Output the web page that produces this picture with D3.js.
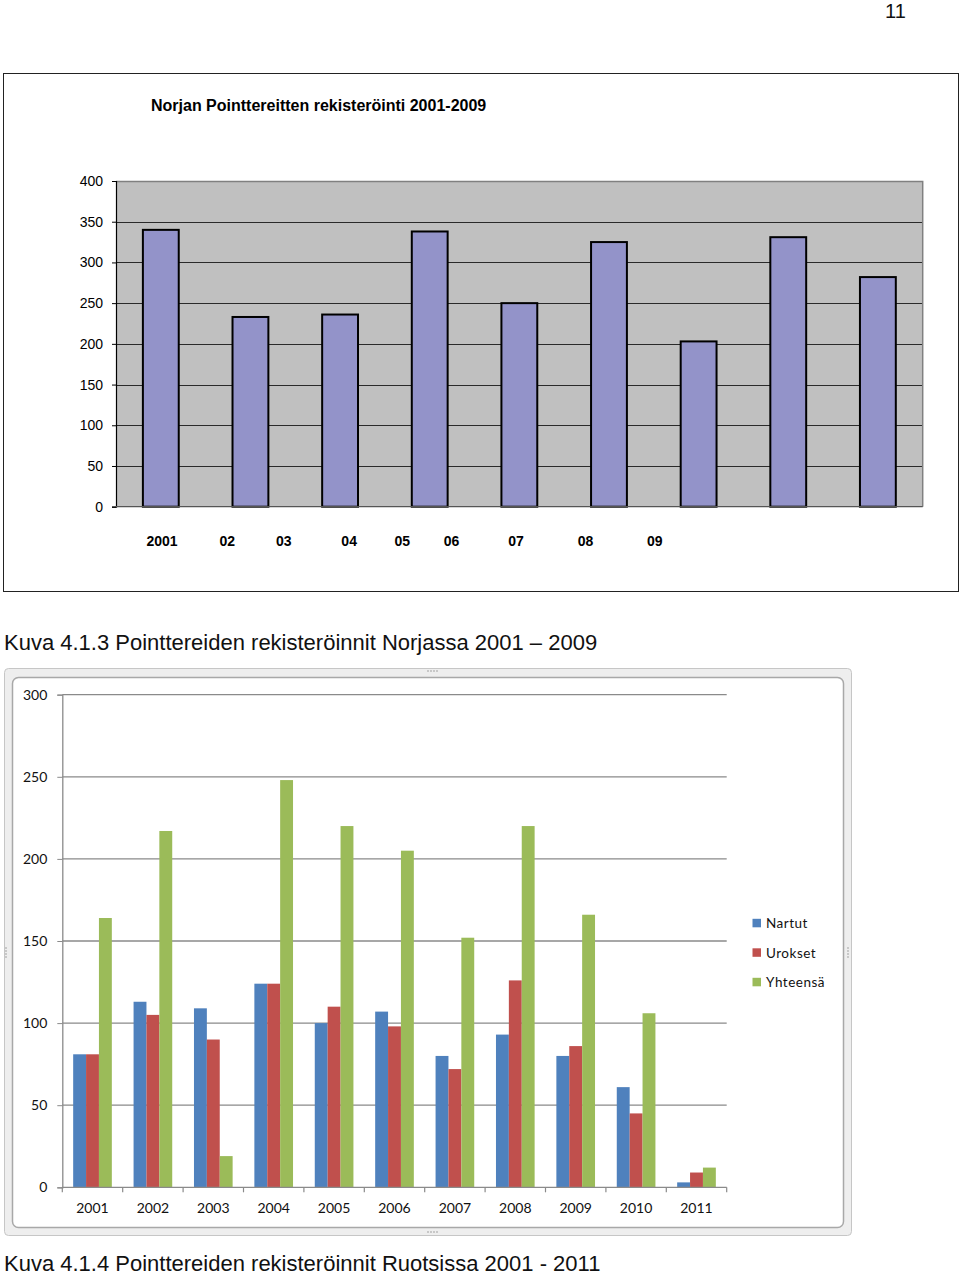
<!DOCTYPE html>
<html><head><meta charset="utf-8">
<script src="https://cdn.jsdelivr.net/npm/d3@7"></script>
<style>html,body{margin:0;padding:0;background:#fff;}svg{display:block;}</style>
</head><body>
<script>
// ---------- Chart 1 data (Norway) ----------
const norYears = ["2001","2002","2003","2004","2005","2006","2007","2008","2009"];
const norValues = [340, 233, 236, 338, 250, 325, 203, 331, 282];
const norYTicks = [0, 50, 100, 150, 200, 250, 300, 350, 400];
const norXLabels = ["2001","02","03","04","05","06","07","08","09"];
// label positions as drawn in the original (hand-placed text row), as fractions of plot width
const norXLabelPos = [0.057, 0.138, 0.208, 0.289, 0.355, 0.416, 0.496, 0.582, 0.668];

// ---------- Chart 2 data (Sweden) ----------
const sweYears = ["2001","2002","2003","2004","2005","2006","2007","2008","2009","2010","2011"];
const seriesNames = ["Nartut","Urokset","Yhteensä"];
const nartut   = [81, 113, 109, 124, 100, 107, 80, 93, 80, 61, 3];
const urokset  = [81, 105, 90, 124, 110, 98, 72, 126, 86, 45, 9];
const yhteensa = [164, 217, 19, 248, 220, 205, 152, 220, 166, 106, 12];
const sweYTicks = [0, 50, 100, 150, 200, 250, 300];
const seriesColors = ["#4F81BD", "#C0504D", "#9BBB59"];

const W = 960, H = 1276;
const svg = d3.select("body").append("svg").attr("width", W).attr("height", H);

// page number
svg.append("text").attr("x", 885).attr("y", 18).attr("font-family", "Liberation Sans, Arial")
  .attr("font-size", 20).attr("fill", "#111").text("11");

// ================= Chart 1 =================
svg.append("rect").attr("x", 3.5).attr("y", 73.5).attr("width", 955).attr("height", 518)
  .attr("fill", "#fff").attr("stroke", "#222").attr("stroke-width", 1);

svg.append("text").attr("x", 151).attr("y", 111)
  .attr("font-family", "Liberation Sans, Arial").attr("font-weight", "bold").attr("font-size", 16)
  .attr("fill", "#000").text("Norjan Pointtereitten rekisteröinti 2001-2009");

const p1 = {l: 116, r: 922.7, t: 181, b: 506.7};
const x1 = d3.scaleBand().domain(norYears).range([p1.l, p1.r]).paddingInner(0.6).paddingOuter(0.3);
const y1 = d3.scaleLinear().domain([0, 400]).range([p1.b, p1.t]);

svg.append("rect").attr("x", p1.l).attr("y", p1.t).attr("width", p1.r - p1.l).attr("height", p1.b - p1.t)
  .attr("fill", "#c0c0c0");
// gridlines
svg.append("g").selectAll("line").data(norYTicks.filter(d => d > 0 && d < 400)).join("line")
  .attr("x1", p1.l).attr("x2", p1.r).attr("y1", d => Math.round(y1(d)) + 0.5).attr("y2", d => Math.round(y1(d)) + 0.5)
  .attr("stroke", "#2a2a2a").attr("stroke-width", 1);
// top and right border
svg.append("path").attr("d", `M${p1.l},${p1.t + 0.5}H${p1.r}V${p1.b}`).attr("fill", "none")
  .attr("stroke", "#808080").attr("stroke-width", 1.5);

// bars
svg.append("g").selectAll("rect").data(norValues).join("rect")
  .attr("x", (d, i) => x1(norYears[i])).attr("width", x1.bandwidth())
  .attr("y", d => y1(d)).attr("height", d => y1(0) - y1(d))
  .attr("fill", "#9393c9").attr("stroke", "#000").attr("stroke-width", 2);

// y axis
const ax1 = svg.append("g").attr("transform", `translate(${p1.l},0)`)
  .call(d3.axisLeft(y1).tickValues(norYTicks).tickSize(4).tickPadding(9));
ax1.select(".domain").attr("stroke", "#000").attr("stroke-width", 1.2);
ax1.selectAll(".tick line").attr("stroke", "#000");
ax1.selectAll("text").attr("font-family", "Liberation Sans, Arial").attr("font-size", 14).attr("fill", "#000");
// bottom axis line
svg.append("line").attr("x1", p1.l).attr("x2", p1.r).attr("y1", p1.b).attr("y2", p1.b)
  .attr("stroke", "#555").attr("stroke-width", 1.2);

// hand placed x labels
const xl1 = d3.scaleLinear().domain([0, 1]).range([p1.l, p1.r]);
svg.append("g").selectAll("text").data(norXLabels).join("text")
  .attr("x", (d, i) => xl1(norXLabelPos[i])).attr("y", 546).attr("text-anchor", "middle")
  .attr("font-family", "Liberation Sans, Arial").attr("font-weight", "bold").attr("font-size", 14)
  .attr("fill", "#000").text(d => d);

// caption 1
svg.append("text").attr("x", 4).attr("y", 650).attr("font-family", "Liberation Sans, Arial")
  .attr("font-size", 22).attr("fill", "#111").text("Kuva 4.1.3 Pointtereiden rekisteröinnit Norjassa 2001 – 2009");

// ================= Chart 2 =================
// Excel-like frame
svg.append("rect").attr("x", 4.5).attr("y", 668.5).attr("width", 847).attr("height", 567)
  .attr("rx", 4).attr("fill", "#eeeeee").attr("stroke", "#c6c6c6");
svg.append("rect").attr("x", 12.5).attr("y", 677.5).attr("width", 831).attr("height", 550)
  .attr("rx", 6).attr("fill", "#fff").attr("stroke", "#a8a8a8").attr("stroke-width", 1.5);
// grip dots
[[428, 671], [428, 1232], [6, 952], [848, 952]].forEach(([gx, gy], k) => {
  for (let j = 0; j < 4; j++) {
    svg.append("circle").attr("cx", k < 2 ? gx + j * 3 : gx).attr("cy", k < 2 ? gy : gy - 4 + j * 3)
      .attr("r", 0.8).attr("fill", "#999");
  }
});

const p2 = {l: 62.3, r: 726.7, t: 694.7, b: 1187.3};
const x0 = d3.scaleBand().domain(sweYears).range([p2.l, p2.r]).paddingInner(0.36).paddingOuter(0.18);
const xs = d3.scaleBand().domain(seriesNames).range([0, x0.bandwidth()]);
const y2 = d3.scaleLinear().domain([0, 300]).range([p2.b, p2.t]);
const xTick = d3.scaleBand().domain(sweYears).range([p2.l, p2.r]);

// gridlines
svg.append("g").selectAll("line").data(sweYTicks.filter(d => d > 0)).join("line")
  .attr("x1", p2.l).attr("x2", p2.r).attr("y1", d => y2(d)).attr("y2", d => y2(d))
  .attr("stroke", "#8a8a8a").attr("stroke-width", 1.3);

const seriesData = [nartut, urokset, yhteensa];
seriesData.forEach((vals, s) => {
  svg.append("g").selectAll("rect").data(vals).join("rect")
    .attr("x", (d, i) => x0(sweYears[i]) + xs(seriesNames[s])).attr("width", xs.bandwidth())
    .attr("y", d => y2(d)).attr("height", d => y2(0) - y2(d))
    .attr("fill", seriesColors[s]);
});

// y axis
const ax2 = svg.append("g").attr("transform", `translate(${p2.l},0)`)
  .call(d3.axisLeft(y2).tickValues(sweYTicks).tickSize(5).tickPadding(10));
ax2.select(".domain").attr("stroke", "#8a8a8a").attr("stroke-width", 1.3);
ax2.selectAll(".tick line").attr("stroke", "#8a8a8a");
ax2.selectAll("text").attr("font-family", "Lato").attr("font-size", 14).attr("fill", "#111");

// x axis
const xBoundaries = sweYears.map(d => xTick(d)).concat([p2.r]);
svg.append("line").attr("x1", p2.l).attr("x2", p2.r).attr("y1", p2.b).attr("y2", p2.b)
  .attr("stroke", "#8a8a8a").attr("stroke-width", 1.3);
svg.append("g").selectAll("line").data(xBoundaries).join("line")
  .attr("x1", d => d).attr("x2", d => d).attr("y1", p2.b).attr("y2", p2.b + 5)
  .attr("stroke", "#8a8a8a").attr("stroke-width", 1.2);
svg.append("g").selectAll("text").data(sweYears).join("text")
  .attr("x", d => xTick(d) + xTick.bandwidth() / 2).attr("y", 1213).attr("text-anchor", "middle")
  .attr("font-family", "Lato").attr("font-size", 14).attr("fill", "#111").text(d => d);

// legend
const lg = svg.append("g");
seriesNames.forEach((n, i) => {
  const ly = 923.3 + i * 29.5;
  lg.append("rect").attr("x", 752.5).attr("y", ly - 4.5).attr("width", 8.5).attr("height", 8.5).attr("fill", seriesColors[i]);
  lg.append("text").attr("x", 766).attr("y", ly + 5).attr("font-family", "Lato").attr("font-size", 13.5)
    .attr("letter-spacing", 0.5).attr("fill", "#111").text(n);
});

// caption 2
svg.append("text").attr("x", 4).attr("y", 1271).attr("font-family", "Liberation Sans, Arial")
  .attr("font-size", 22).attr("fill", "#111").text("Kuva 4.1.4 Pointtereiden rekisteröinnit Ruotsissa 2001 - 2011");
</script>
</body></html>
